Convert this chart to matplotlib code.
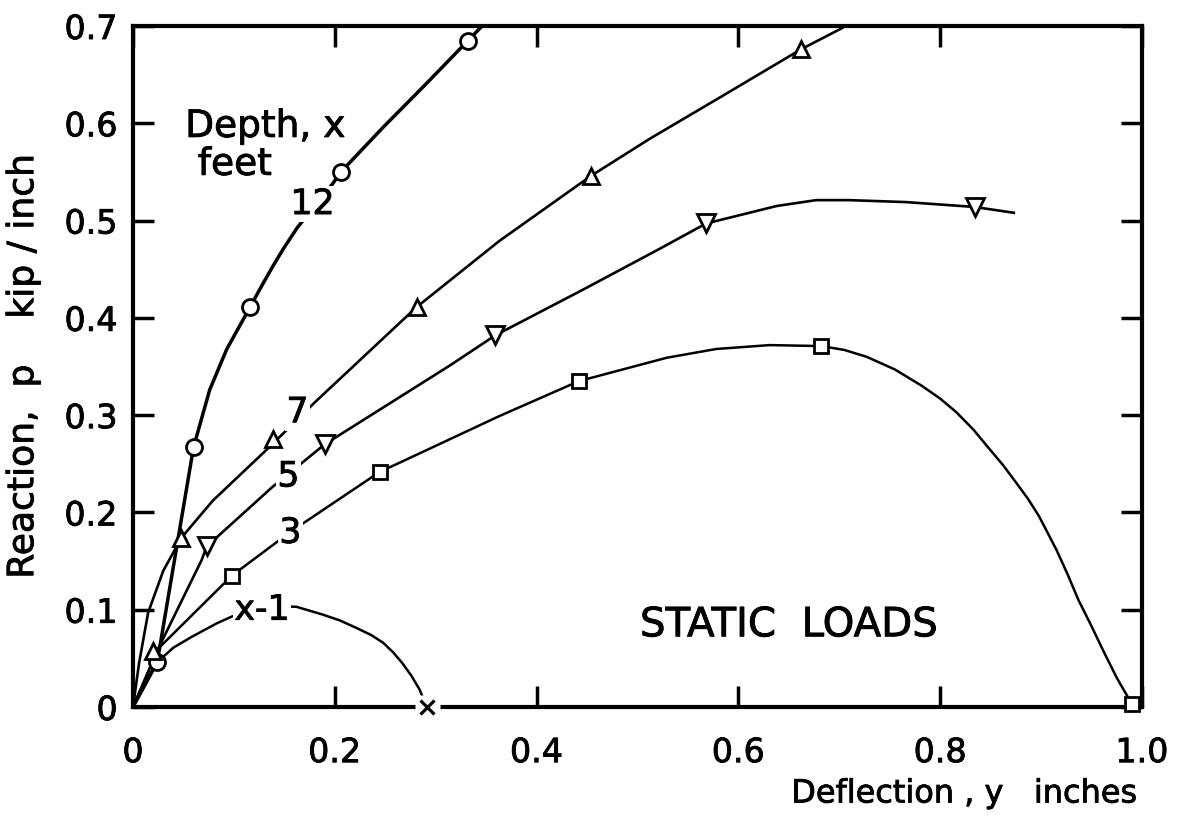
import matplotlib
matplotlib.use("Agg")
import matplotlib.pyplot as plt
import matplotlib.patheffects as pe

d12_x = [0, 0.024, 0.060, 0.076, 0.093, 0.116, 0.126, 0.138, 0.149, 0.163, 0.198, 0.206, 0.248, 0.290, 0.332, 0.346]
d12_y = [0, 0.046, 0.267, 0.326, 0.368, 0.411, 0.430, 0.452, 0.471, 0.493, 0.538, 0.550, 0.596, 0.640, 0.685, 0.700]
d12_px = [0.024, 0.060, 0.116, 0.206, 0.332]
d12_py = [0.046, 0.267, 0.411, 0.550, 0.685]

d7_x = [0, 0.006, 0.015, 0.030, 0.048, 0.079, 0.134, 0.180, 0.281, 0.363, 0.454, 0.512, 0.584, 0.662, 0.703]
d7_y = [0, 0.045, 0.097, 0.140, 0.174, 0.212, 0.266, 0.313, 0.411, 0.479, 0.546, 0.584, 0.628, 0.676, 0.698]
d7_px = [0.020, 0.048, 0.139, 0.281, 0.454, 0.662]
d7_py = [0.058, 0.174, 0.275, 0.411, 0.546, 0.676]

d5_x = [0, 0.025, 0.068, 0.073, 0.138, 0.190, 0.314, 0.359, 0.446, 0.522, 0.568, 0.638, 0.677, 0.710, 0.766, 0.834, 0.873]
d5_y = [0, 0.060, 0.151, 0.165, 0.226, 0.270, 0.351, 0.382, 0.429, 0.471, 0.497, 0.515, 0.521, 0.521, 0.519, 0.514, 0.508]
d5_px = [0.073, 0.190, 0.359, 0.568, 0.834]
d5_py = [0.165, 0.270, 0.382, 0.497, 0.514]

d3_x = [0, 0.025, 0.098, 0.156, 0.245, 0.264, 0.363, 0.442, 0.529, 0.578, 0.631, 0.682, 0.705, 0.727,
        0.755, 0.782, 0.800, 0.816, 0.833, 0.849, 0.862, 0.875, 0.887, 0.898, 0.915, 0.926, 0.937,
        0.950, 0.962, 0.975, 0.990]
d3_y = [0, 0.060, 0.135, 0.180, 0.242, 0.251, 0.299, 0.335, 0.359, 0.368, 0.372, 0.371, 0.367, 0.360,
        0.347, 0.330, 0.317, 0.303, 0.285, 0.265, 0.249, 0.231, 0.214, 0.196, 0.162, 0.137, 0.110,
        0.083, 0.057, 0.030, 0.003]
d3_px = [0.098, 0.245, 0.442, 0.682, 0.990]
d3_py = [0.135, 0.242, 0.335, 0.371, 0.003]

d1_x = [0, 0.012, 0.024, 0.040, 0.058, 0.083, 0.098, 0.130, 0.162, 0.188, 0.205, 0.222, 0.236, 0.248, 0.258,
        0.267, 0.276, 0.284, 0.291]
d1_y = [0, 0.025, 0.046, 0.061, 0.072, 0.086, 0.093, 0.104, 0.103, 0.095, 0.089, 0.081, 0.074, 0.066, 0.056,
        0.045, 0.032, 0.018, 0.0]
d1_px = [0.291]
d1_py = [0.0]

x_ticks = [0, 0.2, 0.4, 0.6, 0.8, 1.0]
x_ticklabels = ["0", "0.2", "0.4", "0.6", "0.8", "1.0"]
y_ticks = [0, 0.1, 0.2, 0.3, 0.4, 0.5, 0.6, 0.7]
y_ticklabels = ["0", "0.1", "0.2", "0.3", "0.4", "0.5", "0.6", "0.7"]

plt.rcParams['font.family'] = 'DejaVu Sans'
bold = [pe.withStroke(linewidth=0.6, foreground='black')]

fig = plt.figure(figsize=(11.9, 8.19), dpi=100)
ax = fig.add_axes([133 / 1190, 1 - 707 / 819, 1009 / 1190, 681 / 819])

ax.plot(d12_x, d12_y, color='black', lw=2.5, zorder=3)
ax.plot(d7_x, d7_y, color='black', lw=1.9, zorder=3)
ax.plot(d5_x, d5_y, color='black', lw=1.9, zorder=3)
ax.plot(d3_x, d3_y, color='black', lw=1.8, zorder=3)
ax.plot(d1_x, d1_y, color='black', lw=1.8, zorder=3)

mk = dict(color='black', mfc='white', mec='black', mew=2.0, ls='none', zorder=6, clip_on=False)
ax.plot(d12_px, d12_py, marker='o', ms=11.5, **mk)
ax.plot(d7_px, d7_py, marker='^', ms=11.5, **mk)
ax.plot(d5_px, d5_py, marker='v', ms=12.5, **mk)
ax.plot(d3_px, d3_py, marker='s', ms=10, **mk)
# the 'x' point sits on the axis line, which is broken around it
ax.plot(d1_px, d1_py, marker='s', ms=18, mfc='white', mec='none', ls='none', zorder=6, clip_on=False)
ax.plot(d1_px, d1_py, marker='x', ms=10, mew=2.3, color='black', ls='none', zorder=7, clip_on=False)

ax.set_xlim(0, 1.0)
ax.set_ylim(0, 0.7)
ax.set_xticks(x_ticks)
ax.set_xticklabels(x_ticklabels)
ax.set_yticks(y_ticks)
ax.set_yticklabels(y_ticklabels)
ax.tick_params(direction='in', top=True, right=True, length=15, width=2.5,
               labelsize=24)
ax.tick_params(axis='x', pad=21)
ax.tick_params(axis='y', pad=11)
for s in ax.spines.values():
    s.set_linewidth(3)
for t in ax.get_xticklabels() + ax.get_yticklabels():
    t.set_path_effects(bold)

lab = dict(fontsize=25, ha='center', va='center', zorder=5, path_effects=bold,
           bbox=dict(facecolor='white', edgecolor='none', pad=1))
ax.text(0.178, 0.517, "12", **lab)
ax.text(0.163, 0.303, "7", **lab)
ax.text(0.154, 0.237, "5", **lab)
ax.text(0.156, 0.179, "3", **lab)
ax.text(0.128, 0.100, "x-1", **lab)

ax.text(0.131, 0.586, "Depth, x", fontsize=27, ha='center', va='baseline', path_effects=bold)
ax.text(0.101, 0.547, "feet", fontsize=27, ha='center', va='baseline', path_effects=bold)
ax.text(0.650, 0.084, "STATIC  LOADS", fontsize=29, ha='center', va='center', path_effects=bold)

ax.set_xlabel("Deflection , y   inches", fontsize=23, va='top', path_effects=bold)
ax.xaxis.set_label_coords(0.824, -0.105)
ax.set_ylabel("Reaction,  p    kip / inch", fontsize=26, path_effects=bold)
ax.yaxis.set_label_coords(-0.092, 0.5)

fig.savefig("out.png", dpi=100)
